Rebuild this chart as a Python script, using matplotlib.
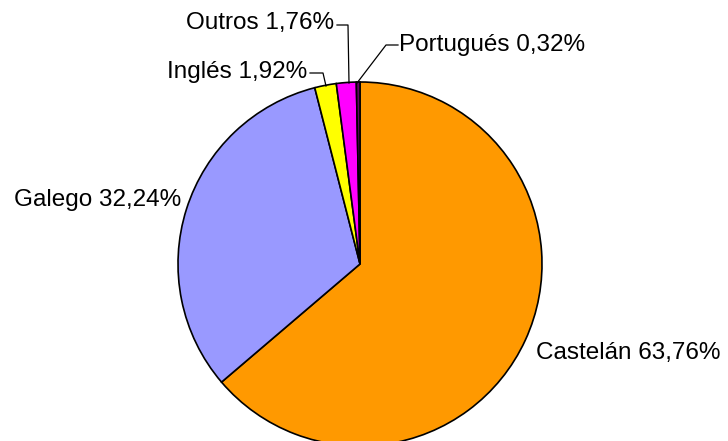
import matplotlib.pyplot as plt

plt.rcParams['font.family'] = ['Liberation Sans', 'DejaVu Sans']

# Data
langs = ['Castelán', 'Galego', 'Inglés', 'Outros', 'Portugués']
shares = [63.76, 32.24, 1.92, 1.76, 0.32]
colors = ['#FF9900', '#9999FF', '#FFFF00', '#FF00FF', '#660066']

fig = plt.figure(figsize=(7.28, 4.41), dpi=100)
ax = fig.add_axes([0, 0, 1, 1])

# pie in pixel coordinates (y inverted -> counterclock=True draws clockwise on screen)
ax.pie(shares, colors=colors, startangle=-90, counterclock=True,
       center=(360, 264), radius=182, frame=True,
       wedgeprops=dict(edgecolor='black', linewidth=1.2))
ax.set_xlim(0, 728)
ax.set_ylim(441, 0)
ax.axis('off')

labels = [f'{n} {v:.2f}%'.replace('.', ',') for n, v in zip(langs, shares)]
fs = 17.5
ax.text(536, 353, labels[0], ha='left', va='center', fontsize=fs)
ax.text(181, 200, labels[1], ha='right', va='center', fontsize=fs)
ax.text(307, 72, labels[2], ha='right', va='center', fontsize=fs)
ax.text(334, 23, labels[3], ha='right', va='center', fontsize=fs)
ax.text(399, 45, labels[4], ha='left', va='center', fontsize=fs)

# leader lines
lw = 0.9
ax.plot([310, 323, 326], [73, 73, 86], color='black', lw=lw)
ax.plot([337, 348, 349], [25, 25, 83], color='black', lw=lw)
ax.plot([398, 386, 357], [45, 45, 83], color='black', lw=lw)

fig.savefig('out.png', dpi=100)
